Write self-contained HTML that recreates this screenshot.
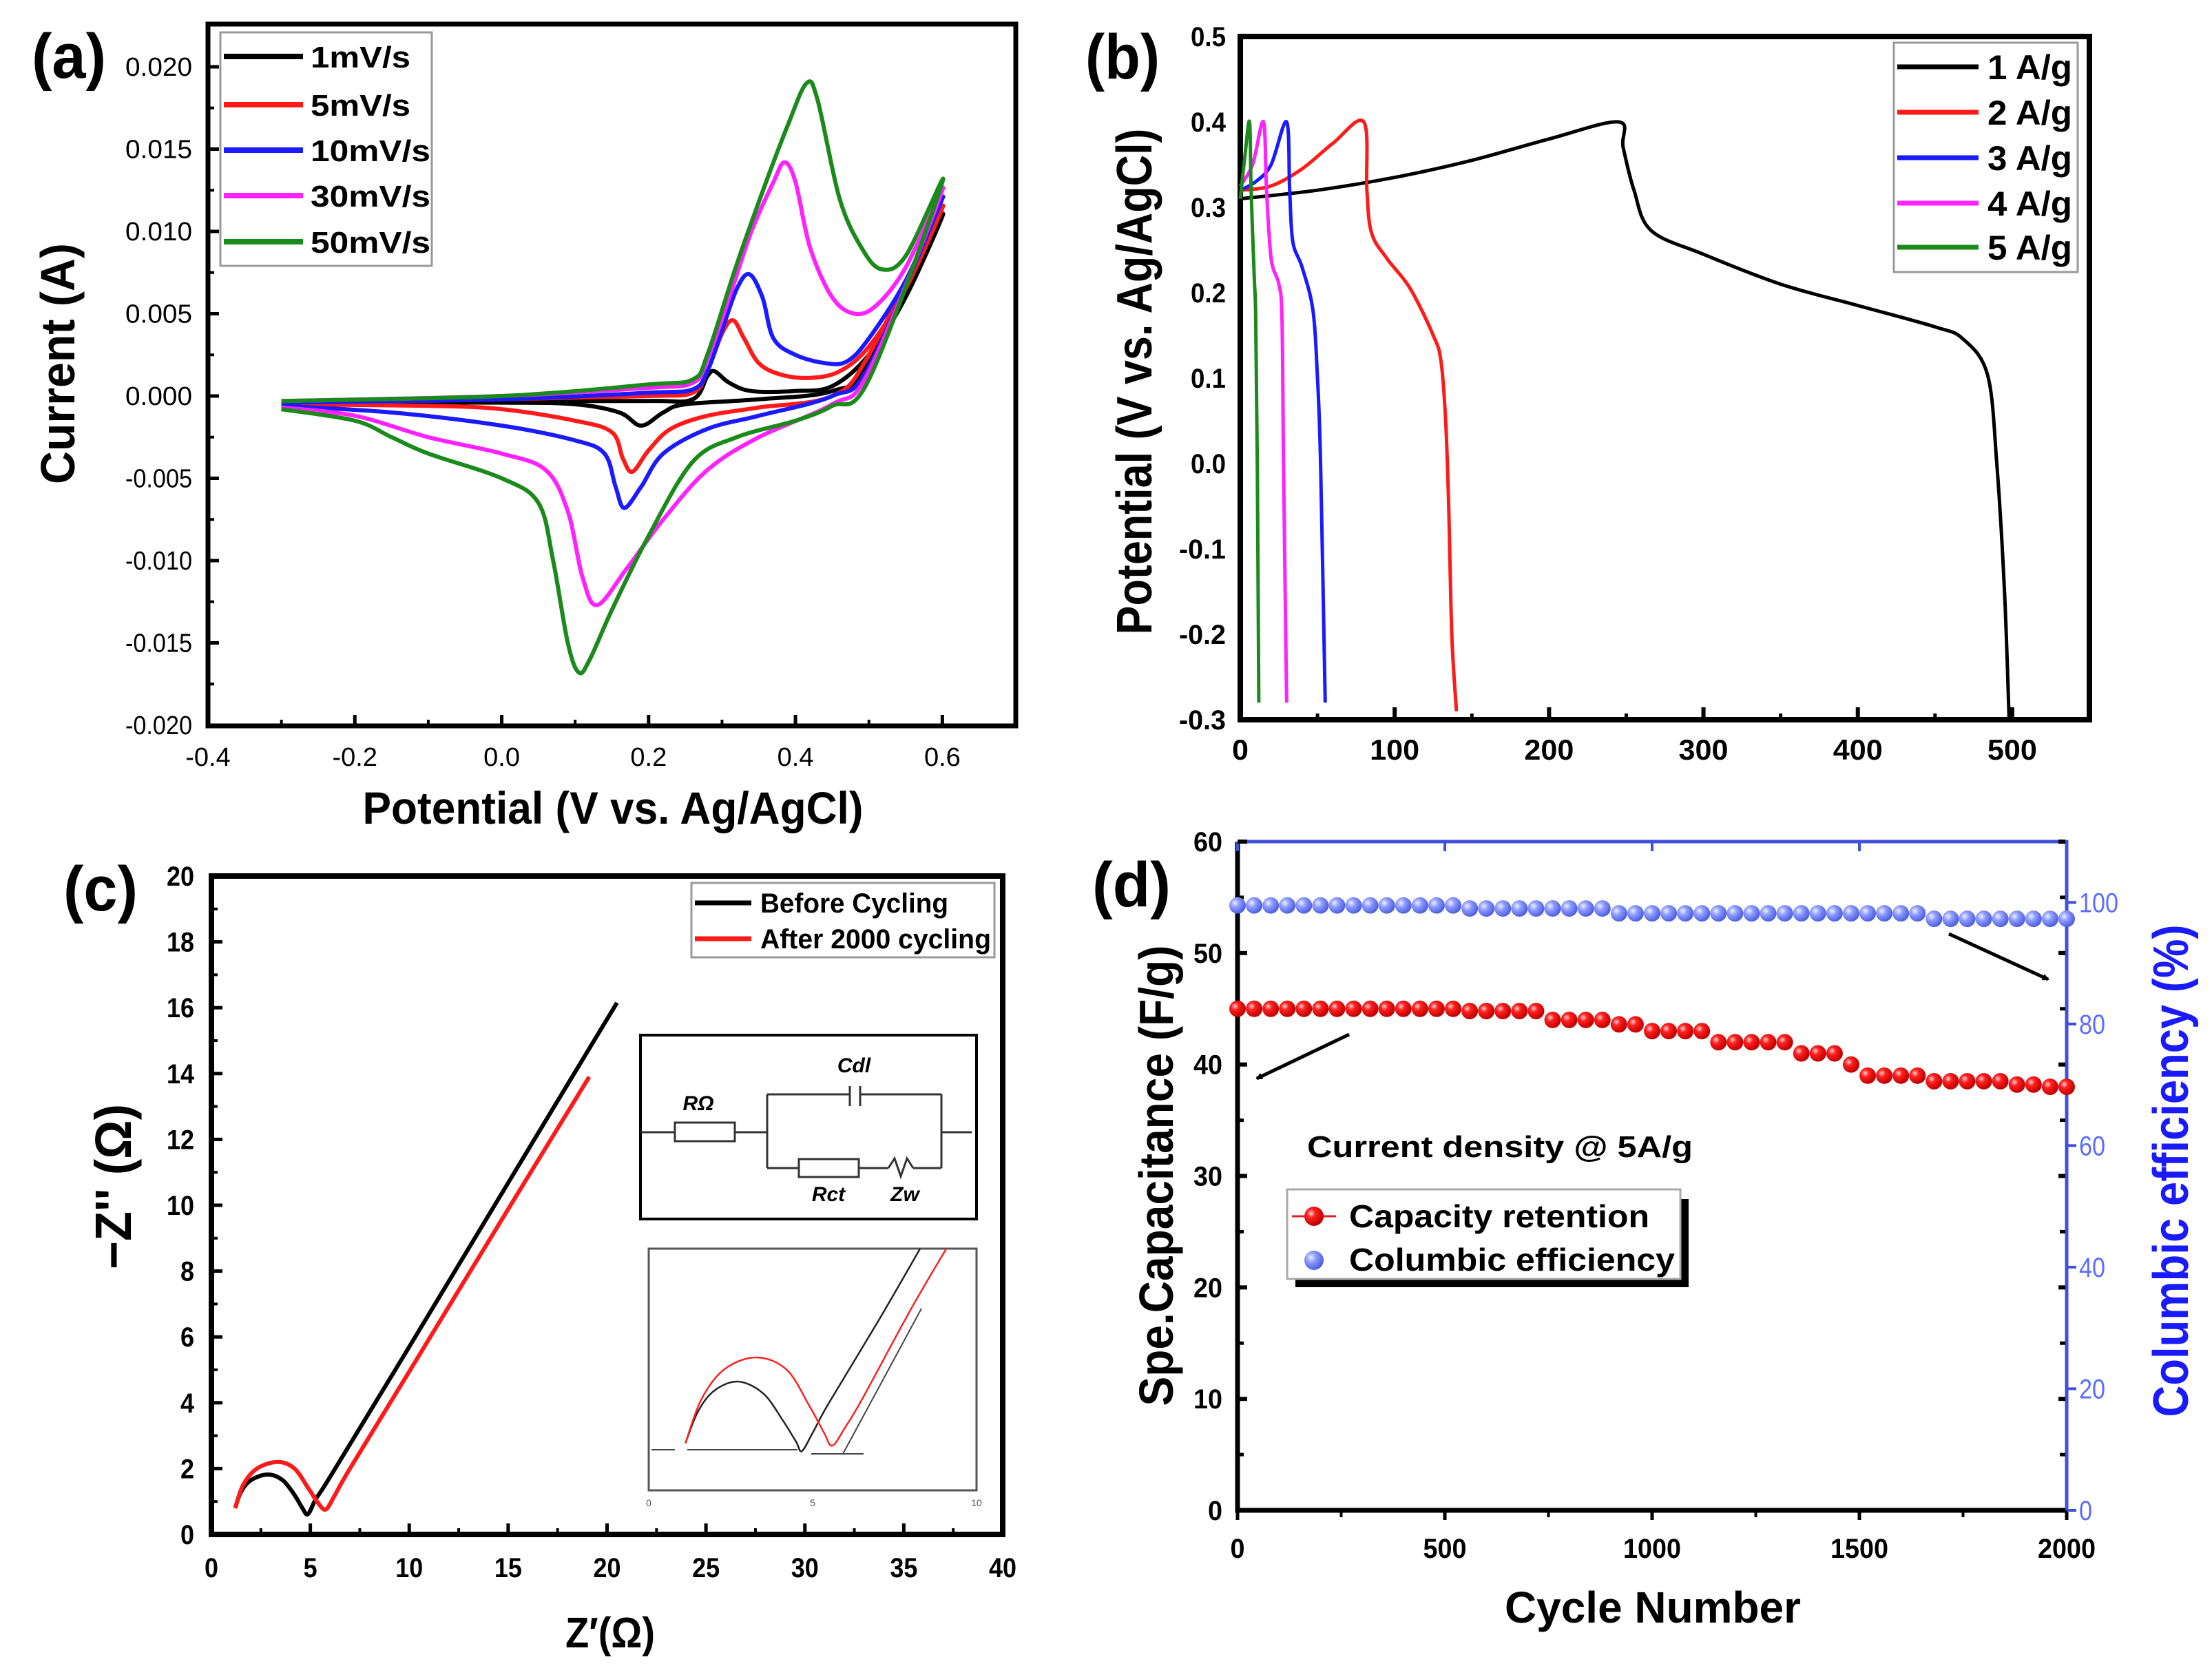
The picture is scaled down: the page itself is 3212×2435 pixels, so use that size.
<!DOCTYPE html>
<html><head><meta charset="utf-8"><style>
html,body{margin:0;padding:0;background:#fff}
svg{display:block}
text{font-family:"Liberation Sans",sans-serif}
</style></head><body>
<svg id="fig" xmlns="http://www.w3.org/2000/svg" width="3212" height="2435" viewBox="0 0 3212 2435">
<defs>
<radialGradient id="gRed" cx="35%" cy="35%" r="65%"><stop offset="0" stop-color="#ffd0d0"/><stop offset="0.35" stop-color="#ff2020"/><stop offset="1" stop-color="#c00000"/></radialGradient>
<radialGradient id="gBlue" cx="35%" cy="35%" r="65%"><stop offset="0" stop-color="#eef0ff"/><stop offset="0.4" stop-color="#8f9cff"/><stop offset="1" stop-color="#5060e0"/></radialGradient>
<marker id="arrowHead" markerWidth="10" markerHeight="10" refX="8" refY="5" orient="auto" markerUnits="userSpaceOnUse" viewBox="0 0 10 10"><path d="M0,0 L10,5 L0,10 z" fill="#000"/></marker>
</defs>
</svg>
<script>
// ---------- DATA: panel (a) CV ----------
const cvLabels = ["1mV/s","5mV/s","10mV/s","30mV/s","50mV/s"];
const cvColors = ["#000000","#ff1a1a","#1a1aff","#ff22ff","#1a8a1a"];
const cv1V = [-0.3,0.0,0.2,0.26,0.28,0.29,0.31,0.34,0.4,0.45,0.5,0.55,0.6,0.5,0.45,0.35,0.25,0.22,0.19,0.16,0.1,0.0,-0.3];
const cv1I = [-0.0004,-0.0003,-0.0003,-0.0002,0.0012,0.0015,0.0008,0.0003,0.0003,0.0006,0.0025,0.006,0.011,0.002,0.0003,-0.0002,-0.0005,-0.001,-0.0018,-0.001,-0.0005,-0.0004,-0.0004];
const cv5V = [-0.3,0.0,0.2,0.26,0.28,0.30,0.315,0.33,0.35,0.38,0.42,0.46,0.5,0.55,0.6,0.5,0.45,0.35,0.28,0.23,0.2,0.178,0.165,0.15,0.1,0.0,-0.1,-0.3];
const cv5I = [-0.0004,-0.0002,0.0,0.0002,0.0015,0.0038,0.0046,0.0035,0.002,0.0013,0.0011,0.0015,0.003,0.0065,0.0115,0.0025,0.0,-0.0007,-0.0012,-0.002,-0.0033,-0.0046,-0.0038,-0.0022,-0.0015,-0.0008,-0.0006,-0.0005];
const cv10V = [-0.3,0.0,0.2,0.26,0.28,0.30,0.32,0.337,0.355,0.37,0.4,0.44,0.47,0.5,0.55,0.6,0.5,0.45,0.35,0.28,0.22,0.19,0.167,0.155,0.14,0.1,0.0,-0.15,-0.3];
const cv10I = [-0.0004,-0.0002,0.0002,0.0004,0.0015,0.004,0.0065,0.0074,0.006,0.0035,0.0025,0.002,0.0021,0.0035,0.007,0.012,0.0018,0.0,-0.0012,-0.002,-0.0035,-0.0055,-0.0068,-0.0055,-0.0035,-0.0027,-0.0018,-0.001,-0.0006];
const cv30V = [-0.3,0.0,0.2,0.26,0.28,0.31,0.34,0.37,0.385,0.40,0.42,0.45,0.48,0.51,0.55,0.6,0.5,0.45,0.35,0.28,0.22,0.17,0.13,0.11,0.09,0.06,0.0,-0.1,-0.2,-0.3];
const cv30I = [-0.0003,0.0,0.0005,0.0008,0.0022,0.006,0.01,0.013,0.0142,0.013,0.009,0.006,0.005,0.0055,0.0078,0.0125,0.0015,-0.0005,-0.0025,-0.0045,-0.0075,-0.0105,-0.0127,-0.011,-0.007,-0.0045,-0.0035,-0.0025,-0.0012,-0.0007];
const cv50V = [-0.3,0.0,0.2,0.26,0.28,0.32,0.36,0.39,0.415,0.43,0.46,0.49,0.517,0.55,0.6,0.5,0.45,0.4,0.32,0.26,0.2,0.15,0.12,0.105,0.09,0.07,0.05,0.0,-0.1,-0.15,-0.2,-0.3];
const cv50I = [-0.0003,0.0,0.0007,0.001,0.0025,0.008,0.013,0.0165,0.019,0.018,0.012,0.009,0.0077,0.0085,0.013,0.001,-0.0006,-0.0015,-0.0025,-0.004,-0.0085,-0.013,-0.016,-0.0168,-0.015,-0.01,-0.0065,-0.005,-0.0035,-0.0025,-0.0015,-0.0008];
const cvXTicks = [-0.4,-0.2,0.0,0.2,0.4,0.6];
const cvXTickLabels = ["-0.4","-0.2","0.0","0.2","0.4","0.6"];
const cvYTicks = [-0.02,-0.015,-0.01,-0.005,0,0.005,0.01,0.015,0.02];
const cvYTickLabels = ["-0.020","-0.015","-0.010","-0.005","0.000","0.005","0.010","0.015","0.020"];

// ---------- DATA: panel (b) GCD ----------
const gcdLabels = ["1 A/g","2 A/g","3 A/g","4 A/g","5 A/g"];
const gcdColors = ["#000000","#ff1a1a","#1a1aff","#ff22ff","#1a8a1a"];
const gcd1T = [0,50,100,150,200,245,248,255,266,300,350,400,450,468,484,490,495,498];
const gcd1V = [0.31,0.32,0.335,0.355,0.38,0.40,0.37,0.32,0.273,0.245,0.21,0.185,0.16,0.146,0.104,0.0,-0.15,-0.3];
const gcd2T = [0,20,40,60,80,82,85,95,110,125,130,133,135,137,140];
const gcd2V = [0.32,0.325,0.345,0.375,0.40,0.32,0.27,0.24,0.205,0.15,0.12,0.05,-0.05,-0.2,-0.29];
const gcd3T = [0,10,20,30,32,34,40,47,50,52,55];
const gcd3V = [0.32,0.33,0.35,0.40,0.32,0.26,0.23,0.18,0.10,0.0,-0.28];
const gcd4T = [0,8,15,17,20,25,27,28,30];
const gcd4V = [0.325,0.35,0.40,0.32,0.24,0.21,0.17,0.0,-0.28];
const gcd5T = [0,3,6,7,9,10,11,12];
const gcd5V = [0.31,0.36,0.40,0.32,0.22,0.17,0.0,-0.28];
const gcdXTicks = [0,100,200,300,400,500];
const gcdYTicks = [-0.3,-0.2,-0.1,0.0,0.1,0.2,0.3,0.4,0.5];
const gcdYTickLabels = ["-0.3","-0.2","-0.1","0.0","0.1","0.2","0.3","0.4","0.5"];

// ---------- DATA: panel (c) EIS ----------
const eisLabels = ["Before Cycling","After 2000 cycling"];
const eisColors = ["#000000","#ff1a1a"];
const eisBeforeRe = [1.2,1.5,2.0,2.85,3.6,4.2,4.6,4.88,5.3,6.0,10.0,15.0,20.5];
const eisBeforeIm = [0.8,1.3,1.65,1.82,1.65,1.2,0.8,0.62,1.1,1.75,5.7,10.68,16.15];
const eisAfterRe = [1.2,1.6,2.3,3.35,4.2,4.9,5.4,5.78,6.2,7.0,10.0,15.0,19.1];
const eisAfterIm = [0.8,1.5,2.0,2.2,2.0,1.4,0.95,0.76,1.15,2.0,4.95,9.88,13.9];
const eisXTicks = [0,5,10,15,20,25,30,35,40];
const eisYTicks = [0,2,4,6,8,10,12,14,16,18,20];
const insetBeforeRe = [1.12,1.5,2.0,2.73,3.5,4.1,4.5,4.67,5.0,5.5,7.0,8.28];
const insetBeforeIm = [0.78,1.3,1.65,1.8,1.6,1.15,0.8,0.65,0.95,1.45,2.8,4.0];
const insetAfterRe = [1.12,1.6,2.3,3.27,4.2,4.9,5.35,5.6,6.0,6.5,8.0,9.08];
const insetAfterIm = [0.78,1.5,2.0,2.2,2.0,1.4,0.95,0.74,1.05,1.5,3.0,4.0];

// ---------- DATA: panel (d) cycling ----------
const cycles = [0,40,80,120,160,200,240,280,320,360,400,440,480,520,560,600,640,680,720,760,800,840,880,920,960,1000,1040,1080,1120,1160,1200,1240,1280,1320,1360,1400,1440,1480,1520,1560,1600,1640,1680,1720,1760,1800,1840,1880,1920,1960,2000];
const capacitance = [45,45,45,45,45,45,45,45,45,45,45,45,45,45,44.8,44.8,44.8,44.8,44.8,44,44,44,44,43.6,43.6,43,43,43,43,42,42,42,42,42,41,41,41,40,39,39,39,39,38.5,38.5,38.5,38.5,38.5,38.2,38.2,38,38];
const efficiency = [99.5,99.5,99.5,99.5,99.5,99.5,99.5,99.5,99.5,99.5,99.5,99.5,99.5,99.5,99,99,99,99,99,99,99,99,99,98.2,98.2,98.2,98.2,98.2,98.2,98.2,98.2,98.2,98.2,98.2,98.2,98.2,98.2,98.2,98.2,98.2,98.2,98.2,97.3,97.3,97.3,97.3,97.3,97.3,97.3,97.3,97.3];
const cycXTicks = [0,500,1000,1500,2000];
const capYTicks = [0,10,20,30,40,50,60];
const effYTicks = [0,20,40,60,80,100];

const svg = document.getElementById('fig');
const NS = 'http://www.w3.org/2000/svg';
function mk(tag, attrs, parent){
  const e = document.createElementNS(NS, tag);
  for (const k in attrs) e.setAttribute(k, attrs[k]);
  (parent||svg).appendChild(e);
  return e;
}
function txt(s, x, y, size, opts, parent){
  opts = opts||{};
  const a = {x:x, y:y, 'font-size':size, 'font-weight':opts.w||'bold', fill:opts.fill||'#000', 'text-anchor':opts.anchor||'middle'};
  if (opts.len){ a.textLength = opts.len; a.lengthAdjust='spacingAndGlyphs'; }
  if (opts.rot){ a.transform = 'rotate(-90 '+x+' '+y+')'; }
  if (opts.family) a['font-family'] = opts.family;
  if (opts.style) a['font-style'] = opts.style;
  const t = mk('text', a, parent);
  t.textContent = s;
  return t;
}
function lin(d0,d1,r0,r1){ return v => r0 + (v-d0)/(d1-d0)*(r1-r0); }
function smooth(px, py){
  let d = 'M'+px[0].toFixed(1)+','+py[0].toFixed(1);
  for (let i=0;i<px.length-1;i++){
    const i0=Math.max(0,i-1), i3=Math.min(px.length-1,i+2);
    const c1x = px[i]+(px[i+1]-px[i0])/6, c1y = py[i]+(py[i+1]-py[i0])/6;
    const c2x = px[i+1]-(px[i3]-px[i])/6, c2y = py[i+1]-(py[i3]-py[i])/6;
    d += ' C'+c1x.toFixed(1)+','+c1y.toFixed(1)+' '+c2x.toFixed(1)+','+c2y.toFixed(1)+' '+px[i+1].toFixed(1)+','+py[i+1].toFixed(1);
  }
  return d;
}
function group(name){
  const g = mk('g', {});
  
  
  return g;
}

// ================= PANEL A =================
(function(){
  const g = group('panel-a-cv');
  const L=302,R=1475,T=35,B=1054;
  const X = lin(-0.4,0.7,L,R), Y = lin(-0.02,0.02,1053,97);
  const frame = mk('rect',{x:L,y:T,width:R-L,height:B-T,fill:'none',stroke:'#000','stroke-width':7},g);
  
  
  cvXTicks.forEach((v,i)=>{
    const t = mk('line',{x1:X(v),x2:X(v),y1:B,y2:B-16,stroke:'#000','stroke-width':5},g);
    
    
    const m = mk('line',{x1:X(v+0.1),x2:X(v+0.1),y1:B,y2:B-9,stroke:'#000','stroke-width':4},g);
    
    
    const l = txt(cvXTickLabels[i], X(v), 1112, 38, {w:'normal'}, g);
    
    
  });
  cvYTicks.forEach((v,i)=>{
    const t = mk('line',{x1:L,x2:L+16,y1:Y(v),y2:Y(v),stroke:'#000','stroke-width':5},g);
    
    
    if (v<0.02){
      const m = mk('line',{x1:L,x2:L+9,y1:Y(v+0.0025),y2:Y(v+0.0025),stroke:'#000','stroke-width':4},g);
      
      
    }
    const l = txt(cvYTickLabels[i], 279, Y(v)+13, 38, {w:'normal',anchor:'end',len:97}, g);
    
    
  });
  const Vs=[cv1V,cv5V,cv10V,cv30V,cv50V], Is=[cv1I,cv5I,cv10I,cv30I,cv50I];
  for (let k=0;k<5;k++){
    const p = mk('path',{d:smooth(Vs[k].map(X),Is[k].map(Y)),fill:'none',stroke:cvColors[k],'stroke-width':6,'stroke-linejoin':'round'},g);
    
    
  }
  const lg = mk('rect',{x:320,y:47,width:307,height:339,fill:'#fff',stroke:'#999','stroke-width':3},g);
  
  
  const ly=[82,152,218,284,351];
  for (let k=0;k<5;k++){
    const l = mk('line',{x1:325,x2:440,y1:ly[k],y2:ly[k],stroke:cvColors[k],'stroke-width':8},g);
    
    
    const t = txt(cvLabels[k], 451, ly[k]+16, 44, {anchor:'start',len:(cvLabels[k].length*29)}, g);
    
    
  }
  const yt = txt('Current (A)', 108, 528, 70, {rot:true,len:350}, g);
  
  
  const xt = txt('Potential (V vs. Ag/AgCl)', 890, 1196, 66, {len:727}, g);
  
  
  const pl = txt('(a)', 100, 113, 92, {len:108}, g);
  
  
})();

// ================= PANEL B =================
(function(){
  const g = group('panel-b-gcd');
  const L=1801,R=3034,T=53,B=1045;
  const X = lin(0,550,L,R), Y = lin(-0.3,0.5,B,T);
  const frame = mk('rect',{x:L,y:T,width:R-L,height:B-T,fill:'none',stroke:'#000','stroke-width':8},g);
  
  
  gcdXTicks.forEach(v=>{
    const t = mk('line',{x1:X(v),x2:X(v),y1:B,y2:B-18,stroke:'#000','stroke-width':6},g);
    
    
    const m = mk('line',{x1:X(v+50),x2:X(v+50),y1:B,y2:B-9,stroke:'#000','stroke-width':5},g);
    
    
    const l = txt(String(v), X(v), 1103, 42, {len:(String(v).length*24)}, g);
    
    
  });
  gcdYTicks.forEach((v,i)=>{
    const l = txt(gcdYTickLabels[i], 1780, Y(v)+14, 40, {anchor:'end',len:(gcdYTickLabels[i].length*17)}, g);
    
    
  });
  const Ts=[gcd1T,gcd2T,gcd3T,gcd4T,gcd5T], Vs=[gcd1V,gcd2V,gcd3V,gcd4V,gcd5V];
  for (let k=0;k<5;k++){
    const p = mk('path',{d:smooth(Ts[k].map(X),Vs[k].map(Y)),fill:'none',stroke:gcdColors[k],'stroke-width':5,'stroke-linejoin':'round'},g);
    
    
  }
  const lg = mk('rect',{x:2750,y:62,width:267,height:333,fill:'#fff',stroke:'#999','stroke-width':3},g);
  
  
  const ly=[97,163,229,295,359];
  for (let k=0;k<5;k++){
    const l = mk('line',{x1:2755,x2:2873,y1:ly[k],y2:ly[k],stroke:gcdColors[k],'stroke-width':7},g);
    
    
    const t = txt(gcdLabels[k], 2886, ly[k]+18, 50, {anchor:'start',len:123}, g);
    
    
  }
  const yt = txt('Potential (V vs. Ag/AgCl)', 1672, 554, 72, {rot:true,len:735}, g);
  
  
  const pl = txt('(b)', 1630, 114, 92, {len:108}, g);
  
  
})();

// ================= PANEL C =================
(function(){
  const g = group('panel-c-eis');
  const L=307,R=1456,T=1272,B=2228;
  const X = lin(0,40,L,R), Y = lin(0,20,B,T);
  const frame = mk('rect',{x:L,y:T,width:R-L,height:B-T,fill:'none',stroke:'#000','stroke-width':8},g);
  
  
  eisXTicks.forEach(v=>{
    const t = mk('line',{x1:X(v),x2:X(v),y1:B,y2:B-16,stroke:'#000','stroke-width':5},g);
    
    
    if (v<40){
      const m = mk('line',{x1:X(v+2.5),x2:X(v+2.5),y1:B,y2:B-9,stroke:'#000','stroke-width':4},g);
      
      
    }
    const l = txt(String(v), X(v), 2290, 40, {len:(String(v).length*20)}, g);
    
    
  });
  eisYTicks.forEach(v=>{
    const t = mk('line',{x1:L,x2:L+16,y1:Y(v),y2:Y(v),stroke:'#000','stroke-width':5},g);
    
    
    if (v<20){
      const m = mk('line',{x1:L,x2:L+9,y1:Y(v+1),y2:Y(v+1),stroke:'#000','stroke-width':4},g);
      
      
    }
    const l = txt(String(v), 282, Y(v)+14, 40, {anchor:'end',len:(String(v).length*20)}, g);
    
    
  });
  const p1 = mk('path',{d:smooth(eisBeforeRe.map(X),eisBeforeIm.map(Y)),fill:'none',stroke:eisColors[0],'stroke-width':6},g);
  
  
  const p2 = mk('path',{d:smooth(eisAfterRe.map(X),eisAfterIm.map(Y)),fill:'none',stroke:eisColors[1],'stroke-width':6},g);
  
  
  const lg = mk('rect',{x:1004,y:1282,width:440,height:108,fill:'#fff',stroke:'#999','stroke-width':3},g);
  
  
  [1311,1363].forEach((y,k)=>{
    const l = mk('line',{x1:1009,x2:1091,y1:y,y2:y,stroke:eisColors[k],'stroke-width':7},g);
    
    
    const t = txt(eisLabels[k], 1104, y+14, 40, {anchor:'start',len:(k?335:273)}, g);
    
    
  });
  const cb = mk('rect',{x:930,y:1503,width:488,height:267,fill:'#fff',stroke:'#000','stroke-width':4},g);
  
  
  const wires = 'M930,1644 H980 M1067,1644 H1114 M1114,1589 V1696 M1114,1589 H1234 M1249,1589 H1367 M1114,1696 H1160 M1247,1696 H1290 M1326,1696 H1367 M1367,1589 V1696 M1367,1644 H1411 M1234,1577 V1606 M1249,1577 V1606 M1290,1696 L1299,1682 L1308,1708 L1317,1682 L1326,1696';
  const w = mk('path',{d:wires,fill:'none',stroke:'#333','stroke-width':3},g);
  
  
  const r1 = mk('rect',{x:980,y:1630,width:87,height:27,fill:'#fff',stroke:'#333','stroke-width':3},g);
  
  
  const r2 = mk('rect',{x:1160,y:1683,width:87,height:26,fill:'#fff',stroke:'#333','stroke-width':3},g);
  
  
  [['RΩ',1014,1612],['Cdl',1240,1557],['Rct',1203,1744],['Zw',1314,1744]].forEach(c=>{
    const t = txt(c[0], c[1], c[2], 30, {family:'"Liberation Serif",serif',style:'italic'}, g);
    
    
  });
  const iX = lin(0,10,942,1418), iY = lin(0,4,2164,1813);
  const ib = mk('rect',{x:942,y:1813,width:476,height:351,fill:'#fff',stroke:'#555','stroke-width':3},g);
  
  
  const ip1 = mk('path',{d:smooth(insetBeforeRe.map(iX),insetBeforeIm.map(iY)),fill:'none',stroke:'#222','stroke-width':2.5},g);
  
  
  const ip2 = mk('path',{d:smooth(insetAfterRe.map(iX),insetAfterIm.map(iY)),fill:'none',stroke:'#ff2020','stroke-width':2.5},g);
  
  
  const ia = mk('path',{d:'M946,2105 H980 M998,2105 H1158 M1178,2111 H1254 M1224,2111 L1338,1900',fill:'none',stroke:'#444','stroke-width':2},g);
  
  
  [['0',942,2187],['5',1180,2187],['10',1418,2187]].forEach(c=>{
    const t = txt(c[0], c[1], c[2], 14, {w:'normal',fill:'#555'}, g);
    
    
  });
  const yt = txt('−Z\'\' (Ω)', 190, 1723, 74, {rot:true,len:240}, g);
  
  
  const xt = txt('Z′(Ω)', 886, 2392, 62, {len:130}, g);
  
  
  const pl = txt('(c)', 146, 1322, 92, {len:108}, g);
  
  
})();

// ================= PANEL D =================
(function(){
  const g = group('panel-d-cycling');
  const L=1797,R=3001,T=1222,B=2193;
  const X = lin(0,2000,L,R), Y = lin(0,60,B,T), Y2 = lin(0,110,B,T);
  const blue = '#3f51d8';
  const ax = mk('path',{d:'M'+L+','+T+' V'+B+' H'+R,fill:'none',stroke:'#000','stroke-width':7},g);
  
  
  const ax2 = mk('path',{d:'M'+L+','+T+' H'+R+' V'+B,fill:'none',stroke:blue,'stroke-width':5},g);
  
  
  cycXTicks.forEach(v=>{
    const t = mk('line',{x1:X(v),x2:X(v),y1:B,y2:B+14,stroke:'#000','stroke-width':5},g);
    
    
    const tt = mk('line',{x1:X(v),x2:X(v),y1:T,y2:T+14,stroke:blue,'stroke-width':4},g);
    
    
    if (v<2000){
      const m = mk('line',{x1:X(v+250),x2:X(v+250),y1:B,y2:B+10,stroke:'#000','stroke-width':4},g);
      
      
    }
    const l = txt(String(v), X(v), 2262, 40, {len:(String(v).length*21)}, g);
    
    
  });
  capYTicks.forEach(v=>{
    const t = mk('line',{x1:L,x2:L+14,y1:Y(v),y2:Y(v),stroke:'#000','stroke-width':6},g);
    
    
    const t2 = mk('line',{x1:R-12,x2:R-2,y1:Y(v),y2:Y(v),stroke:'#000','stroke-width':6},g);
    
    
    if (v<60){
      const m = mk('line',{x1:L,x2:L+9,y1:Y(v+5),y2:Y(v+5),stroke:'#000','stroke-width':5},g);
      
      
      const m2 = mk('line',{x1:R-10,x2:R-2,y1:Y(v+5),y2:Y(v+5),stroke:'#000','stroke-width':5},g);
      
      
    }
    const l = txt(String(v), 1775, Y(v)+14, 40, {anchor:'end',len:(String(v).length*21)}, g);
    
    
  });
  effYTicks.forEach(v=>{
    const t = mk('line',{x1:R,x2:R+14,y1:Y2(v),y2:Y2(v),stroke:blue,'stroke-width':4},g);
    
    
    const l = txt(String(v), 3019, Y2(v)+14, 40, {anchor:'start',fill:'#5b6cff',w:'normal',len:(String(v).length*19)}, g);
    
    
  });
  cycles.forEach((c,i)=>{
    const b = mk('circle',{cx:X(c),cy:Y2(efficiency[i]),r:12,fill:'url(#gBlue)'},g);
    
    
  });
  cycles.forEach((c,i)=>{
    const r = mk('circle',{cx:X(c),cy:Y(capacitance[i]),r:12,fill:'url(#gRed)'},g);
    
    
  });
  const a1 = mk('line',{x1:1959,y1:1502,x2:1825,y2:1566,stroke:'#000','stroke-width':5,'marker-end':'url(#arrowHead)'},g);
  
  
  const a2 = mk('line',{x1:2830,y1:1356,x2:2974,y2:1422,stroke:'#000','stroke-width':5,'marker-end':'url(#arrowHead)'},g);
  
  
  const note = txt('Current density @ 5A/g', 1898, 1680, 44, {anchor:'start',len:560}, g);
  
  
  const sh = mk('rect',{x:1881,y:1741,width:571,height:128,fill:'#000'},g);
  
  
  const lg = mk('rect',{x:1869,y:1727,width:571,height:130,fill:'#fff',stroke:'#aaa','stroke-width':3},g);
  
  
  const ls = mk('line',{x1:1876,x2:1940,y1:1766,y2:1766,stroke:'#e02020','stroke-width':3},g);
  
  
  const lm1 = mk('circle',{cx:1908,cy:1766,r:14,fill:'url(#gRed)'},g);
  
  
  const lm2 = mk('circle',{cx:1908,cy:1830,r:14,fill:'url(#gBlue)'},g);
  
  
  const lt1 = txt('Capacity retention', 1959, 1782, 46, {anchor:'start',len:436}, g);
  
  
  const lt2 = txt('Columbic efficiency', 1959, 1845, 46, {anchor:'start',len:473}, g);
  
  
  const xt = txt('Cycle Number', 2400, 2356, 64, {len:430}, g);
  
  
  const yt = txt('Spe.Capacitance (F/g)', 1703, 1707, 70, {rot:true,len:669}, g);
  
  
  const yt2 = txt('Columbic efficiency (%)', 3177, 1700, 72, {rot:true,len:715,fill:'#1a1aff'}, g);
  
  
  const pl = txt('(d)', 1643, 1316, 92, {len:114}, g);
  
  
})();
</script>
</body></html>
